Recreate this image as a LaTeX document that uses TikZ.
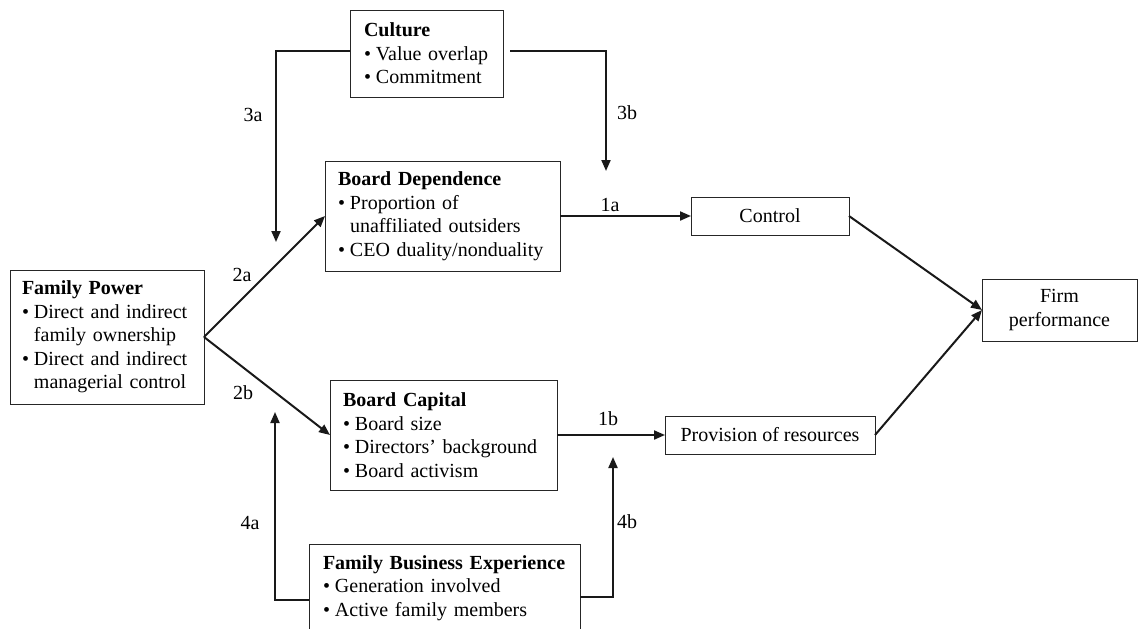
\documentclass[tikz,border=0pt]{standalone}
\usepackage{fontspec}
\setmainfont{Liberation Serif}
\usetikzlibrary{arrows.meta}
\newcommand{\bul}{\makebox[12pt][l]{\textbullet}}
\newcommand{\ind}{\hspace*{12pt}}
\begin{document}
\begin{tikzpicture}[x=1pt,y=-1pt,
  box/.style={draw=black!85, line width=1pt, inner ysep=0pt, outer sep=0pt,
    anchor=north west, align=left, font=\fontsize{20}{23.5}\selectfont},
  cbox/.style={draw=black!85, line width=1pt, inner sep=0pt, outer sep=0pt,
    anchor=north west, align=center, font=\fontsize{20}{23.5}\selectfont},
  lbl/.style={font=\fontsize{20}{23.5}\selectfont, inner sep=0pt},
  arr/.style={draw=black!90, line width=2pt, line join=miter,
    -{Triangle[length=11pt,width=9pt]}}]
\useasboundingbox (0,0) rectangle (1138,629);
\clip (0,0) rectangle (1138,629);

% boxes
\node[box, inner xsep=12pt, text width=170pt, minimum height=134pt] (fp) at (10,270)
  {\textbf{Family Power}\\\bul Direct and indirect\\\ind family ownership\\\bul Direct and indirect\\\ind managerial control};
\node[box, inner xsep=14pt, text width=125pt, minimum height=87pt] (cult) at (350,10)
  {\textbf{Culture}\\\bul Value overlap\\\bul Commitment};
\node[box, inner xsep=13pt, text width=209pt, minimum height=110pt] (bd) at (325,161)
  {\textbf{Board Dependence}\\\bul Proportion of\\\ind unaffiliated outsiders\\\bul CEO duality/nonduality};
\node[box, inner xsep=13pt, text width=201pt, minimum height=110pt] (bc) at (330,380)
  {\textbf{Board Capital}\\\bul Board size\\\bul Directors' background\\\bul Board activism};
\node[box, inner xsep=14pt, text width=243pt, minimum height=88pt] (fbe) at (309,544)
  {\textbf{Family Business Experience}\\\bul Generation involved\\\bul Active family members};
\node[cbox, minimum width=158pt, minimum height=38pt] (ctrl) at (691,197) {Control};
\node[cbox, minimum width=210pt, minimum height=38pt] (prov) at (665,416) {Provision of resources};
\node[cbox, minimum width=155pt, minimum height=62pt] (firm) at (982,279) {Firm\\performance};

% connector labels
\node[lbl] (l3a) at (253,115) {3a};
\node[lbl] (l3b) at (627,113) {3b};
\node[lbl] (l2a) at (242,275) {2a};
\node[lbl] (l2b) at (243,393) {2b};
\node[lbl] (l1a) at (610,205) {1a};
\node[lbl] (l1b) at (608,419) {1b};
\node[lbl] (l4a) at (250,523) {4a};
\node[lbl] (l4b) at (627,522) {4b};

% free ends of the moderating arrows
\coordinate (t3a) at (276,242);
\coordinate (t3b) at (606,171);
\coordinate (t4a) at (275,412);
\coordinate (t4b) at (613,457);

% main paths
\draw[arr] (fp.east) -- (bd.west);
\draw[arr] (fp.east) -- (bc.west);
\draw[arr] (bd.east) -- (ctrl.west);
\draw[arr] (bc.east) -- (prov.west);
\draw[arr] (ctrl.east) -- (firm.west);
\draw[arr] (prov.east) -- (firm.west);

% moderators
\draw[arr] ([yshift=3pt]cult.west) -| (t3a);
\draw[arr] ([xshift=7pt,yshift=3pt]cult.east) -| (t3b);
\draw[arr] ([yshift=-12pt]fbe.west) -| (t4a);
\draw[arr] ([yshift=-9pt]fbe.east) -| (t4b);
\end{tikzpicture}
\end{document}
